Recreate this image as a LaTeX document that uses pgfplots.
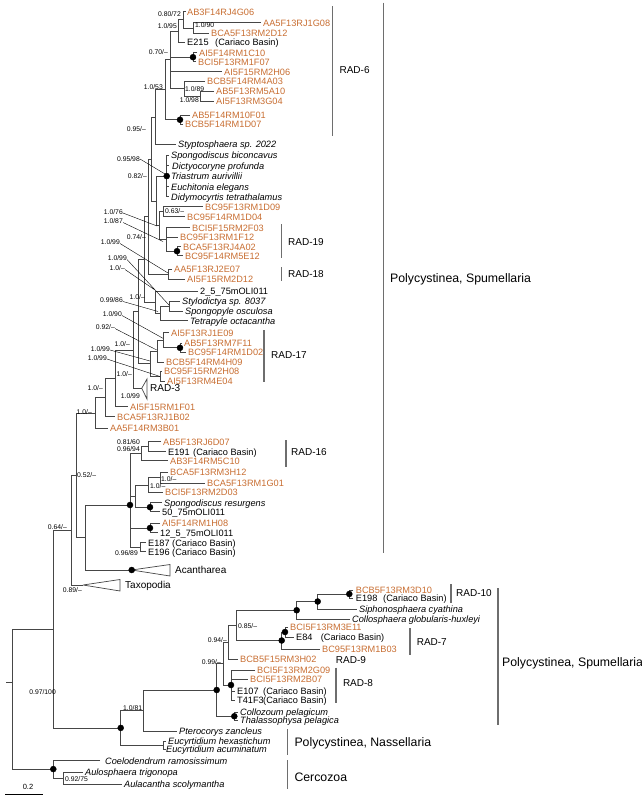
\documentclass[border=0pt]{standalone}
\usepackage{pgfplots}
\pgfplotsset{compat=1.18}
\usepackage{fontspec}
\setmainfont{Liberation Sans}
\definecolor{orangec}{RGB}{200,110,50}
\definecolor{linec}{RGB}{70,70,70}
\definecolor{barc}{RGB}{110,110,110}
\begin{document}
\begin{tikzpicture}[
 lf/.style={anchor=west, inner sep=0pt, font=\fontsize{9.2}{10}\selectfont, text height=6.6pt, text depth=0pt},
 ol/.style={lf, text=orangec},
 il/.style={lf, font=\fontsize{9.2}{10}\selectfont\itshape},
 sp/.style={anchor=east, inner sep=0pt, font=\fontsize{6.8}{7}\selectfont, text height=4.9pt, text depth=0pt},
 spl/.style={sp, anchor=west},
 rad/.style={anchor=west, inner sep=0pt, font=\fontsize{10}{12}\selectfont, text height=7.2pt, text depth=0pt},
 grp/.style={anchor=west, inner sep=0pt, font=\fontsize{12.3}{14}\selectfont, text height=8.8pt, text depth=0pt},
]
\begin{axis}[hide axis, scale only axis, width=642pt, height=796pt,
 xmin=0, xmax=642, ymin=0, ymax=796, y dir=reverse, clip=false,
 unbounded coords=jump, anchor=south west, at={(0,0)}]
% ---------------- tree branches ----------------
\addplot[linec, line width=0.7pt] coordinates {
(261,22.7)(193,22.7)(193,33)(209,33) (nan,nan)
(186,11.7)(183,11.7)(183,27.9)(193,27.9) (nan,nan)
(183,19.8)(178,19.8)(178,42)(185,42) (nan,nan)
(197,52.7)(193,52.7)(193,61.7)(196,61.7) (nan,nan)
(214,91)(200,91)(200,101.5)(214,101.5) (nan,nan)
(205,81)(184,81)(184,96.25)(200,96.25) (nan,nan)
(178,30.9)(170,30.9)(170,88.6)(184,88.6) (nan,nan)
(170,57.2)(193,57.2) (nan,nan)
(170,71.7)(222,71.7) (nan,nan)
(190,115)(180,115)(180,124.5)(183,124.5) (nan,nan)
(170,59.75)(165,59.75)(165,119.75)(180,119.75) (nan,nan)
(165,89.75)(155,89.75)(155,144.5)(176,144.5) (nan,nan)
(169,155.5)(166.7,155.5)(166.7,196.7)(169,196.7) (nan,nan)
(166.7,165.7)(169,165.7) (nan,nan)
(166.7,176)(169,176) (nan,nan)
(166.7,186.7)(169,186.7) (nan,nan)
(203,206.7)(163,206.7)(163,216.7)(185,216.7) (nan,nan)
(181,246.7)(177,246.7)(177,255.7)(183,255.7) (nan,nan)
(190,227.7)(166.7,227.7)(166.7,251.2)(177,251.2) (nan,nan)
(166.7,237.3)(178,237.3) (nan,nan)
(163,211.7)(159,211.7)(159,239.45)(166.7,239.45) (nan,nan)
(166.7,176.1)(156,176.1)(156,225.6)(159,225.6) (nan,nan)
(155,117.1)(151,117.1)(151,200.85)(156,200.85) (nan,nan)
(172,269.3)(168,269.3)(168,279)(185,279) (nan,nan)
(151,159)(148,159)(148,274.2)(168,274.2) (nan,nan)
(180,301)(169,301)(169,311)(183,311) (nan,nan)
(169,306)(160,306)(160,320.7)(188,320.7) (nan,nan)
(198,291.5)(155,291.5)(155,313.35)(160,313.35) (nan,nan)
(148,216.6)(144,216.6)(144,302.4)(155,302.4) (nan,nan)
(182,343.3)(180,343.3)(180,352.3)(186,352.3) (nan,nan)
(169,332.8)(163,332.8)(163,347.8)(180,347.8) (nan,nan)
(163,340.3)(157,340.3)(157,362.4)(164,362.4) (nan,nan)
(162,371)(160,371)(160,381)(165,381) (nan,nan)
(157,351.35)(150,351.35)(150,376)(160,376) (nan,nan)
(144,259.5)(138,259.5)(138,363.7)(150,363.7) (nan,nan)
(138,311.6)(133,311.6)(133,388.3)(141.7,388.3) (nan,nan)
(133,349.95)(115,349.95)(115,406.7)(128,406.7) (nan,nan)
(115,378.3)(105,378.3)(105,416.7)(115,416.7) (nan,nan)
(105,397.5)(95,397.5)(95,428.3)(108,428.3) (nan,nan)
(161,441.7)(148,441.7)(148,451.7)(166,451.7) (nan,nan)
(148,446.7)(141.7,446.7)(141.7,460.7)(168,460.7) (nan,nan)
(168,472.3)(160,472.3)(160,483.3)(205,483.3) (nan,nan)
(160,477.8)(148.3,477.8)(148.3,492.3)(163,492.3) (nan,nan)
(162,502.7)(150,502.7)(150,511.7)(160,511.7) (nan,nan)
(148.3,485)(135,485)(135,507.2)(150,507.2) (nan,nan)
(160,523.3)(150,523.3)(150,532.7)(158,532.7) (nan,nan)
(146,542.7)(140,542.7)(140,551.7)(146,551.7) (nan,nan)
(141.7,453.7)(130,453.7)(130,547.2)(140,547.2) (nan,nan)
(130,496.1)(135,496.1) (nan,nan)
(130,528)(150,528) (nan,nan)
(130,505)(85,505)(85,570)(131.7,570) (nan,nan)
(95,412.9)(76,412.9)(76,537.5)(85,537.5) (nan,nan)
(76,475.2)(71.7,475.2)(71.7,585)(83,585) (nan,nan)
(353,590)(349.3,590)(349.3,598)(353,598) (nan,nan)
(349.3,594)(317.7,594)(317.7,609)(357,609) (nan,nan)
(317.7,601.5)(296.7,601.5)(296.7,619)(350,619) (nan,nan)
(288,627)(285,627)(285,637)(294,637) (nan,nan)
(285,632)(281.7,632)(281.7,649)(320,649) (nan,nan)
(296.7,610.25)(236.7,610.25)(236.7,640.5)(281.7,640.5) (nan,nan)
(236.7,625.4)(228,625.4)(228,659.5)(238,659.5) (nan,nan)
(255,670)(231,670)(231,700)(235,700) (nan,nan)
(231,679.5)(248,679.5) (nan,nan)
(231,691.5)(235,691.5) (nan,nan)
(228,642.45)(223,642.45)(223,685)(231,685) (nan,nan)
(238,712)(234.3,712)(234.3,720.5)(238,720.5) (nan,nan)
(223,663.7)(216.7,663.7)(216.7,716.25)(234.3,716.25) (nan,nan)
(216.7,690)(143.3,690)(143.3,731.5)(177,731.5) (nan,nan)
(166,741)(163.3,741)(163.3,749)(166,749) (nan,nan)
(143.3,710.75)(120.7,710.75)(120.7,745)(163.3,745) (nan,nan)
(71.7,530.1)(53,530.1)(53,727.9)(120.7,727.9) (nan,nan)
(83,772.3)(63.3,772.3)(63.3,784)(121.7,784) (nan,nan)
(100,760)(53.3,760)(53.3,778.2)(63.3,778.2) (nan,nan)
(53,629)(12.3,629)(12.3,769.1)(53.3,769.1) (nan,nan)
(6,682)(12.3,682)
};
% collapsed clades
\addplot[linec, line width=0.7pt] coordinates {(141.7,388.3)(147,379)(147,399)(141.7,388.3)};
\addplot[linec, line width=0.7pt] coordinates {(131.7,570)(170,564.5)(170,576)(131.7,570)};
\addplot[linec, line width=0.7pt] coordinates {(83,585)(120,579.5)(120,591)(83,585)};
% leader lines
\addplot[black, line width=0.4pt] coordinates {
(140,159)(166.7,175) (nan,nan)
(123,213)(157,226) (nan,nan)
(123,222.5)(163,241.5) (nan,nan)
(120,243.5)(168,273) (nan,nan)
(127,259.5)(169,305) (nan,nan)
(125,269.5)(155,290) (nan,nan)
(123,301.5)(158,311.5) (nan,nan)
(122,315.5)(163,338.3) (nan,nan)
(115,328.5)(156.7,350) (nan,nan)
(110,350)(150,361) (nan,nan)
(107,359)(160,376.5)
};
% node dots
\addplot[only marks, mark=*, mark size=3pt, black] coordinates {
(193,57.2)(180,119.75)(166.7,176.1)(177,251.2)(180,347.8)(130,505)(150,507.2)
(150,528)(131.7,570)(349.3,594)(317.7,601.5)(296.7,610.25)(285,632)(281.7,640.5)
(231,685)(234.3,716.25)(216.7,690)(120.7,727.9)(53.3,769.1)};
% clade bars
\addplot[barc, line width=1.2pt] coordinates {
(332.7,6)(332.7,136) (nan,nan)
(281.7,224)(281.7,258) (nan,nan)
(281.7,267)(281.7,281) (nan,nan)
(264,330)(264,382) (nan,nan)
(286,440)(286,467) (nan,nan)
(383.5,2.5)(383.5,553) (nan,nan)
(451,584)(451,603) (nan,nan)
(410,628)(410,655) (nan,nan)
(336,667.5)(336,703) (nan,nan)
(498,588)(498,725) (nan,nan)
(287.7,729)(287.7,755) (nan,nan)
(287.7,760)(287.7,789)
};
% scale bar
\addplot[black, line width=0.7pt] coordinates {(5,794)(43.3,794)};
\node[anchor=center, inner sep=0pt, font=\fontsize{7.5}{8}\selectfont] at (axis cs:28,787) {0.2};
% ---------------- leaf labels ----------------
\node[ol] at (axis cs:187,11.7) {AB3F14RJ4G06};
\node[ol] at (axis cs:263,22.7) {AA5F13RJ1G08};
\node[ol] at (axis cs:211,33) {BCA5F13RM2D12};
\node[lf] at (axis cs:187,42) {E215};
\node[lf] at (axis cs:215,42) {(Cariaco Basin)};
\node[ol] at (axis cs:199,52.7) {AI5F14RM1C10};
\node[ol] at (axis cs:198,61.7) {BCI5F13RM1F07};
\node[ol] at (axis cs:224,71.7) {AI5F15RM2H06};
\node[ol] at (axis cs:207,81) {BCB5F14RM4A03};
\node[ol] at (axis cs:216,91) {AB5F13RM5A10};
\node[ol] at (axis cs:216,101.5) {AI5F13RM3G04};
\node[ol] at (axis cs:192,115) {AB5F14RM10F01};
\node[ol] at (axis cs:185,124.5) {BCB5F14RM1D07};
\node[il] at (axis cs:178,144.5) {Styptosphaera sp. 2022};
\node[il] at (axis cs:171,155.5) {Spongodiscus biconcavus};
\node[il] at (axis cs:172,165.7) {Dictyocoryne profunda};
\node[il] at (axis cs:171,176) {Triastrum aurivillii};
\node[il] at (axis cs:171,186.7) {Euchitonia elegans};
\node[il] at (axis cs:171,196.7) {Didymocyrtis tetrathalamus};
\node[ol] at (axis cs:205,206.7) {BC95F13RM1D09};
\node[ol] at (axis cs:187,216.7) {BC95F14RM1D04};
\node[ol] at (axis cs:192,227.7) {BCI5F15RM2F03};
\node[ol] at (axis cs:180,237.3) {BC95F13RM1F12};
\node[ol] at (axis cs:183,246.7) {BCA5F13RJ4A02};
\node[ol] at (axis cs:185,255.7) {BC95F14RM5E12};
\node[ol] at (axis cs:174,269.3) {AA5F13RJ2E07};
\node[ol] at (axis cs:187,279) {AI5F15RM2D12};
\node[lf] at (axis cs:200,291.5) {2\_5\_75mOLI011};
\node[il] at (axis cs:182,301) {Stylodictya sp. 8037};
\node[il] at (axis cs:185,311) {Spongopyle osculosa};
\node[il] at (axis cs:190,320.7) {Tetrapyle octacantha};
\node[ol] at (axis cs:171,332.8) {AI5F13RJ1E09};
\node[ol] at (axis cs:184,343.3) {AB5F13RM7F11};
\node[ol] at (axis cs:188,352.3) {BC95F14RM1D02};
\node[ol] at (axis cs:166,362.4) {BCB5F14RM4H09};
\node[ol] at (axis cs:164,371) {BC95F15RM2H08};
\node[ol] at (axis cs:167,381) {AI5F13RM4E04};
\node[ol] at (axis cs:130,406.7) {AI5F15RM1F01};
\node[ol] at (axis cs:117,416.7) {BCA5F13RJ1B02};
\node[ol] at (axis cs:110,428.3) {AA5F14RM3B01};
\node[ol] at (axis cs:163,441.7) {AB5F13RJ6D07};
\node[lf] at (axis cs:168,451.7) {E191};
\node[lf] at (axis cs:193,451.7) {(Cariaco Basin)};
\node[ol] at (axis cs:170,460.7) {AB3F14RM5C10};
\node[ol] at (axis cs:170,471.8) {BCA5F13RM3H12};
\node[ol] at (axis cs:207,483.3) {BCA5F13RM1G01};
\node[ol] at (axis cs:165,492.3) {BCI5F13RM2D03};
\node[il] at (axis cs:164,502.7) {Spongodiscus resurgens};
\node[lf] at (axis cs:162,511.7) {50\_75mOLI011};
\node[ol] at (axis cs:162,523.3) {AI5F14RM1H08};
\node[lf] at (axis cs:160,532.7) {12\_5\_75mOLI011};
\node[lf] at (axis cs:148,542.7) {E187 (Cariaco Basin)};
\node[lf] at (axis cs:148,551.7) {E196 (Cariaco Basin)};
\node[ol] at (axis cs:355.7,590) {BCB5F13RM3D10};
\node[lf] at (axis cs:355.7,598) {E198};
\node[lf] at (axis cs:383,598) {(Cariaco Basin)};
\node[il] at (axis cs:359,609) {Siphonosphaera cyathina};
\node[il] at (axis cs:352,619) {Collosphaera globularis-huxleyi};
\node[ol] at (axis cs:290,627) {BCI5F13RM3E11};
\node[lf] at (axis cs:296,637) {E84};
\node[lf] at (axis cs:320.7,637) {(Cariaco Basin)};
\node[ol] at (axis cs:322,649) {BC95F13RM1B03};
\node[ol] at (axis cs:240,659.5) {BCB5F15RM3H02};
\node[ol] at (axis cs:257,670) {BCI5F13RM2G09};
\node[ol] at (axis cs:250,679.5) {BCI5F13RM2B07};
\node[lf] at (axis cs:237,691.5) {E107};
\node[lf] at (axis cs:263,691.5) {(Cariaco Basin)};
\node[lf] at (axis cs:237,700) {T41F3};
\node[lf] at (axis cs:263,700) {(Cariaco Basin)};
\node[il] at (axis cs:240,712) {Collozoum pelagicum};
\node[il] at (axis cs:240,720.5) {Thalassophysa pelagica};
\node[il] at (axis cs:179,731.5) {Pterocorys zancleus};
\node[il] at (axis cs:168,741) {Eucyrtidium hexastichum};
\node[il] at (axis cs:166,749) {Eucyrtidium acuminatum};
\node[il] at (axis cs:105,761) {Coelodendrum ramosissimum};
\node[il] at (axis cs:85,772.3) {Aulosphaera trigonopa};
\node[il] at (axis cs:124,784) {Aulacantha scolymantha};
% collapsed / clade names
\node[rad] at (axis cs:150,388.3) {RAD-3};
\node[rad] at (axis cs:175,570) {Acantharea};
\node[rad] at (axis cs:125,585) {Taxopodia};
\node[rad] at (axis cs:339.4,69.5) {RAD-6};
\node[rad] at (axis cs:288,241.7) {RAD-19};
\node[rad] at (axis cs:288,274) {RAD-18};
\node[rad] at (axis cs:271,355) {RAD-17};
\node[rad] at (axis cs:291,452) {RAD-16};
\node[rad] at (axis cs:456,593) {RAD-10};
\node[rad] at (axis cs:416.6,641.6) {RAD-7};
\node[rad] at (axis cs:335.7,660) {RAD-9};
\node[rad] at (axis cs:342.8,683) {RAD-8};
\node[grp] at (axis cs:390,278) {Polycystinea, Spumellaria};
\node[grp] at (axis cs:502,662.4) {Polycystinea, Spumellaria};
\node[grp] at (axis cs:294.3,741.7) {Polycystinea, Nassellaria};
\node[grp] at (axis cs:294.3,776.7) {Cercozoa};
% ---------------- support values ----------------
\node[sp] at (axis cs:181,14) {0.80/72};
\node[sp] at (axis cs:177,26) {1.0/95};
\node[spl] at (axis cs:195,25.5) {1.0/90};
\node[sp] at (axis cs:168,52) {0.70/--};
\node[sp] at (axis cs:163,86.7) {1.0/53};
\node[spl] at (axis cs:185,89.5) {1.0/89};
\node[sp] at (axis cs:199,100) {1.0/98};
\node[sp] at (axis cs:146,129) {0.95/--};
\node[sp] at (axis cs:140,159) {0.95/98};
\node[sp] at (axis cs:147,176) {0.82/--};
\node[spl] at (axis cs:165,211) {0.63/--};
\node[sp] at (axis cs:123,211.7) {1.0/76};
\node[sp] at (axis cs:123,221) {1.0/87};
\node[sp] at (axis cs:146,236.7) {0.74/--};
\node[sp] at (axis cs:120,242.3) {1.0/99};
\node[sp] at (axis cs:127,258) {1.0/99};
\node[sp] at (axis cs:125,268) {1.0/--};
\node[sp] at (axis cs:145,296.7) {1.0/--};
\node[sp] at (axis cs:123,300) {0.99/86};
\node[sp] at (axis cs:122,314.3) {1.0/90};
\node[sp] at (axis cs:115,327.3) {0.92/--};
\node[sp] at (axis cs:130,344) {1.0/--};
\node[sp] at (axis cs:110,349) {1.0/99};
\node[sp] at (axis cs:107,358.3) {1.0/99};
\node[sp] at (axis cs:132,374) {1.0/--};
\node[sp] at (axis cs:103,388) {1.0/--};
\node[sp] at (axis cs:140,395.7) {1.0/99};
\node[sp] at (axis cs:92,411.7) {1.0/--};
\node[sp] at (axis cs:140,442) {0.81/60};
\node[sp] at (axis cs:140,449.5) {0.96/94};
\node[spl] at (axis cs:77,475) {0.52/--};
\node[spl] at (axis cs:161,479) {1.0/--};
\node[spl] at (axis cs:150,486.5) {1.0/--};
\node[sp] at (axis cs:67,527) {0.64/--};
\node[sp] at (axis cs:138,553.3) {0.96/89};
\node[sp] at (axis cs:82,590) {0.89/--};
\node[spl] at (axis cs:238,626) {0.85/--};
\node[sp] at (axis cs:227,640) {0.94/--};
\node[sp] at (axis cs:221,662) {0.99/--};
\node[sp] at (axis cs:56,692) {0.97/100};
\node[spl] at (axis cs:123,708) {1.0/81};
\node[spl] at (axis cs:65,779.3) {0.92/75};
\end{axis}
\pgfresetboundingbox
\path (0,0) rectangle (642pt,796pt);
\end{tikzpicture}
\end{document}
